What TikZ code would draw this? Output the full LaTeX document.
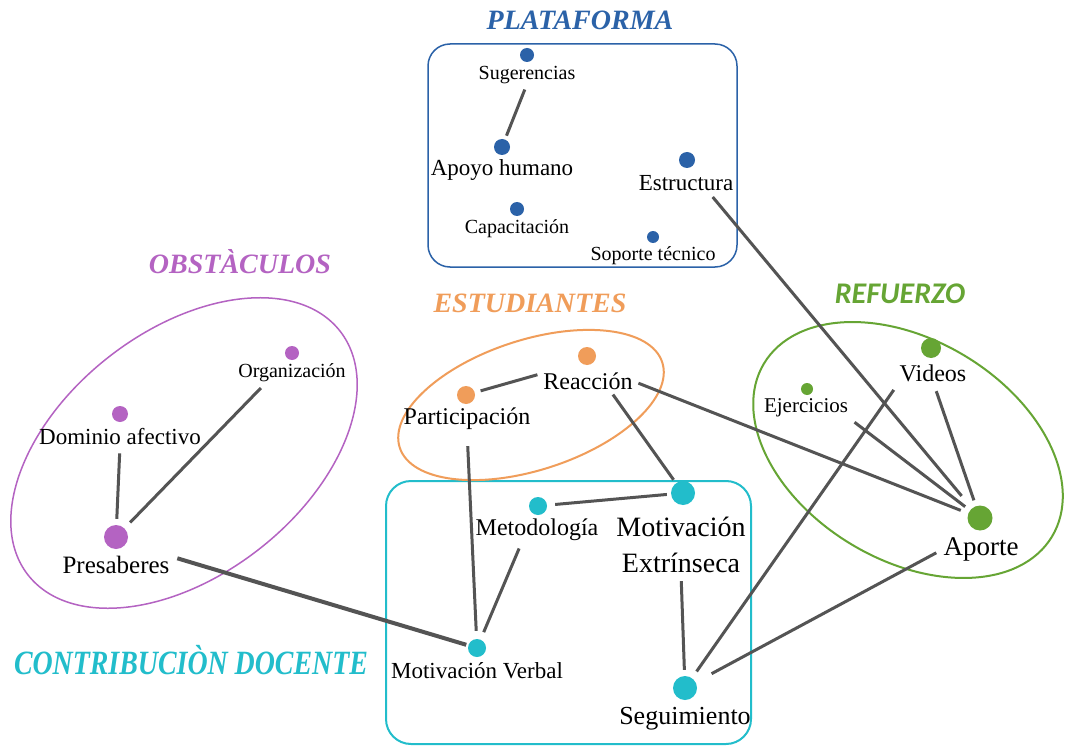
\documentclass[tikz,border=0pt]{standalone}
\usepackage{fontspec}
\setmainfont{Liberation Serif}
\newfontfamily\refsans{Carlito}
\usepackage{graphicx}

\definecolor{azul}{HTML}{2B62A8}
\definecolor{morado}{HTML}{B463C2}
\definecolor{naranja}{HTML}{F09D5A}
\definecolor{verde}{HTML}{66A534}
\definecolor{cian}{HTML}{22BDCB}
\definecolor{linea}{HTML}{545454}

\newcommand{\fs}[1]{\fontsize{#1}{#1}\selectfont}

\begin{document}
\begin{tikzpicture}[x=1pt, y=-1pt,
    dot/.style={circle, fill=#1, inner sep=0pt},
    lbl/.style={inner sep=0pt, text=black},
    link/.style={draw=linea, line width=3pt},
    titulo/.style={text=#1, font=\bfseries\itshape\fs{28}}]
    \useasboundingbox[fill=white] (0,0) rectangle (1065,746);

    % Titles
    \node[titulo=azul] (tplat) at (580,20) {PLATAFORMA};
    \node[titulo=morado] (tobs) at (240,262) {OBSTÀCULOS};
    \node[titulo=naranja] (test) at (530,303) {ESTUDIANTES};
    \node[titulo=verde, font=\refsans\bfseries\itshape\fs{30}] (tref) at (900,294) {REFUERZO};
    \node[titulo=cian] (tdoc) at (191,660) {\scalebox{0.82}[1]{\fs{34}CONTRIBUCIÒN DOCENTE}};

    % Enclosures
    \draw[azul, line width=1.5pt, rounded corners=22pt] (428,44) rectangle (737,267);
    \draw[cian, line width=2pt, rounded corners=25pt] (386,481) rectangle (751,744);
    \draw[morado, line width=1.5pt, shift={(184,453)}, rotate=38] (0,0) ellipse [x radius=198, y radius=122];
    \draw[naranja, line width=2pt, shift={(531,405)}, rotate=18] (0,0) ellipse [x radius=138, y radius=65];
    \draw[verde, line width=2pt, shift={(908,450)}, rotate=-31] (0,0) ellipse [x radius=168, y radius=110];

    % Plataforma
    \node[dot=azul, minimum size=14pt] (sug) at (527,55) {};
    \node[lbl, font=\fs{20}] (sugl) at (527,75) {Sugerencias};
    \node[dot=azul, minimum size=16pt] (apo) at (502,147) {};
    \node[lbl, font=\fs{23}] (apol) at (502,170) {Apoyo humano};
    \node[dot=azul, minimum size=14pt] (cap) at (517,209) {};
    \node[lbl, font=\fs{20}] (capl) at (517,229) {Capacitación};
    \node[dot=azul, minimum size=16pt] (estr) at (687,160) {};
    \node[lbl, font=\fs{23}] (estrl) at (686,183) {Estructura};
    \node[dot=azul, minimum size=12pt] (sop) at (653,237) {};
    \node[lbl, font=\fs{20}] (sopl) at (653,256) {Soporte técnico};

    % Obstaculos
    \node[dot=morado, minimum size=14pt] (org) at (292,353) {};
    \node[lbl, font=\fs{20}] (orgl) at (292,373) {Organización};
    \node[dot=morado, minimum size=16pt] (dom) at (120,414) {};
    \node[lbl, font=\fs{23}] (doml) at (120,437) {Dominio afectivo};
    \node[dot=morado, minimum size=24pt] (pres) at (116,537) {};
    \node[lbl, font=\fs{25}] (presl) at (116,565) {Presaberes};

    % Estudiantes
    \node[dot=naranja, minimum size=18pt] (reac) at (587,356) {};
    \node[lbl, font=\fs{24}] (reacl) at (588,381) {Reacción};
    \node[dot=naranja, minimum size=18pt] (part) at (466,395) {};
    \node[lbl, font=\fs{24}] (partl) at (467,419) {Participación};

    % Refuerzo
    \node[dot=verde, minimum size=20pt] (vid) at (931,348) {};
    \node[lbl, font=\fs{24}] (vidl) at (933,373) {Videos};
    \node[dot=verde, minimum size=12pt] (ejer) at (807,389) {};
    \node[lbl, font=\fs{21}] (ejerl) at (806,408) {Ejercicios};
    \node[dot=verde, minimum size=25pt] (apor) at (980,518) {};
    \node[lbl, font=\fs{27}] (aporl) at (981,549) {Aporte};

    % Contribucion docente
    \node[dot=cian, minimum size=18pt] (met) at (538,506) {};
    \node[lbl, font=\fs{24}] (metl) at (537,530) {Metodología};
    \node[dot=cian, minimum size=24pt] (mext) at (683,493) {};
    \node[lbl, font=\fontsize{28}{36}\selectfont, align=center] (mextl) at (681,545) {Motivación\\Extrínseca};
    \node[dot=cian, minimum size=18pt] (mver) at (477,648) {};
    \node[lbl, font=\fs{23}] (mverl) at (477,671) {Motivación Verbal};
    \node[dot=cian, minimum size=24pt] (seg) at (685,688) {};
    \node[lbl, font=\fs{26}] (segl) at (685,719) {Seguimiento};

    % Links
    \draw[link, shorten <=6pt, shorten >=4pt] (sugl.south) -- (apo);
    \draw[link, shorten <=8pt, shorten >=16pt] (estrl.-20) -- (apor);
    \draw[link, shorten <=8pt, shorten >=6pt] (doml.south) -- (pres);
    \draw[link, shorten <=8pt, shorten >=8pt] (orgl.200) -- (pres);
    \draw[link, line width=4pt, shorten <=8pt, shorten >=2pt] (presl.north east) -- (mver);
    \draw[link, shorten <=6pt, shorten >=6pt] (part) -- (reacl.170);
    \draw[link, shorten <=6pt, shorten >=8pt] (reacl.east) -- (apor);
    \draw[link, shorten <=6pt, shorten >=4pt] (reacl.-22) -- (mext);
    \draw[link, shorten <=16pt, shorten >=8pt] (partl.south) -- (mver);
    \draw[link, shorten <=8pt, shorten >=4pt] (met) -- (mext);
    \draw[link, shorten <=8pt, shorten >=8pt] (metl.217) -- (mver);
    \draw[link, shorten <=8pt, shorten >=6pt] (mextl.south) -- (seg);
    \draw[link, shorten <=10pt, shorten >=8pt] (vidl.south west) -- (seg);
    \draw[link, shorten <=8pt, shorten >=18pt] (aporl.west) -- (seg);
    \draw[link, shorten <=10pt, shorten >=6pt] (vidl.south) -- (apor);
    \draw[link, shorten <=8pt, shorten >=6pt] (ejerl.south east) -- (apor);
\end{tikzpicture}
\end{document}
